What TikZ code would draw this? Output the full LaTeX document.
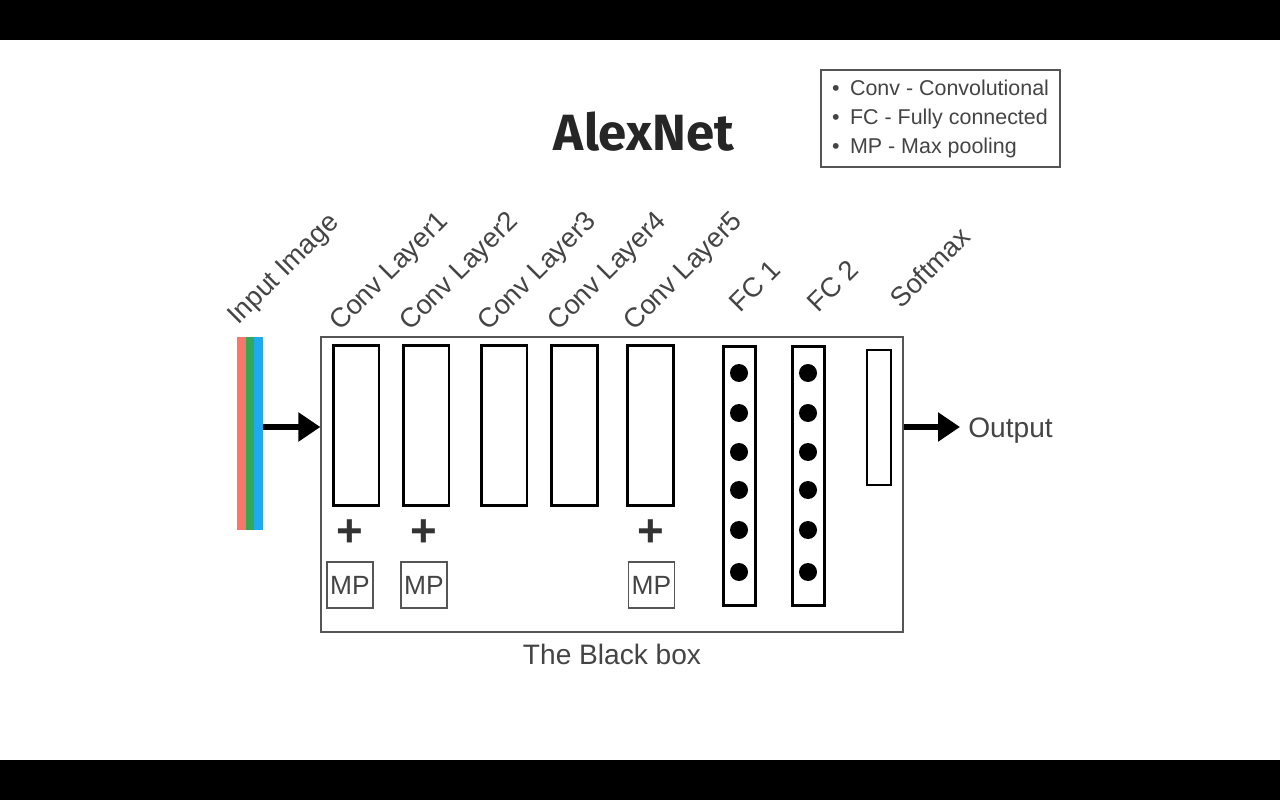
\documentclass[tikz,border=0pt]{standalone}
\usepackage{fontspec}
\setmainfont{Liberation Sans}
\newfontfamily\titlefont{Fira Sans}
\usepackage{xcolor}
\usetikzlibrary{arrows.meta,positioning}
\definecolor{txtgray}{HTML}{444444}
\definecolor{boxgray}{HTML}{555555}
\definecolor{chred}{HTML}{F8766D}
\definecolor{chgreen}{HTML}{34A853}
\definecolor{chblue}{HTML}{1EAAF1}
\tikzstyle{conv} = [draw=black, line width=1.7pt, minimum width=0.92cm, minimum height=3.22cm, inner sep=0pt]
\tikzstyle{fc} = [draw=black, line width=1.7pt, minimum width=0.64cm, minimum height=5.2cm, inner sep=0pt]
\tikzstyle{dot} = [circle, fill=black, minimum size=0.36cm, inner sep=0pt]
\tikzstyle{mp} = [draw=boxgray, line width=0.7pt, minimum size=0.92cm, inner sep=0pt, text=txtgray, font=\fontsize{15}{18}\selectfont]
\tikzstyle{plus} = [inner sep=0pt, text=black!80, font=\fontsize{26}{30}\selectfont\bfseries]
\tikzstyle{lbl} = [rotate=45, anchor=base west, inner sep=0pt, text=txtgray, font=\fontsize{15.5}{18}\selectfont]
\tikzstyle{chan} = [minimum width=0.17cm, minimum height=3.86cm, inner sep=0pt]
\tikzstyle{arrow} = [line width=3.8pt, -{Triangle[length=0.44cm,width=0.56cm]}]

\begin{document}
\begin{tikzpicture}[x=0.02cm, y=-0.02cm]
    % frame
    \useasboundingbox (0,0) rectangle (1280,800);
    \fill[white] (0,0) rectangle (1280,800);
    \fill[black] (0,0) rectangle (1280,40);
    \fill[black] (0,760) rectangle (1280,800);
    % title and legend
    \node (title) at (644,132) {\titlefont\fontsize{29}{34}\selectfont\bfseries\color{black!85}AlexNet};
    \node (legend) [draw=boxgray, line width=0.8pt, minimum width=4.78cm, minimum height=1.94cm, inner sep=2pt, text=txtgray, font=\fontsize{12.2}{16.5}\selectfont] at (940.5,118.5)
        {\begin{tabular}{@{}l@{\hspace{6pt}}l@{}}
         \textbullet & Conv - Convolutional\\
         \textbullet & FC - Fully connected\\
         \textbullet & MP - Max pooling
         \end{tabular}};
    % input image
    \node (chR) [chan, fill=chred] at (241.5,433.5) {};
    \node (chG) [chan, fill=chgreen] at (250,433.5) {};
    \node (input) [chan, fill=chblue] at (258.5,433.5) {};
    % the black box
    \node (blackbox) [draw=boxgray, line width=0.8pt, minimum width=11.64cm, minimum height=5.9cm] at (612,484.5) {};
    \node (conv1) [conv] at (356,425.5) {};
    \node (conv2) [conv] at (426,425.5) {};
    \node (conv3) [conv] at (504,425.5) {};
    \node (conv4) [conv] at (574.5,425.5) {};
    \node (conv5) [conv] at (650.5,425.5) {};
    \node (fc1) [fc] at (739,476) {};
    \node (fc2) [fc] at (808,476) {};
    \foreach \y [count=\i] in {373,413,452,490,530,572} {
        \node (dotA\i) [dot] at (739,\y) {};
        \node (dotB\i) [dot] at (808,\y) {};
    }
    \node (softmax) [draw=black, line width=1.5pt, minimum width=0.48cm, minimum height=2.7cm, inner sep=0pt] at (879,417.5) {};
    % pooling
    \node (plus1) [plus] at (350,533) {+};
    \node (plus2) [plus] at (424,533) {+};
    \node (plus5) [plus] at (651,533) {+};
    \node (mp1) [mp] at (350,585) {MP};
    \node (mp2) [mp] at (424,585) {MP};
    \node (mp5) [mp] at (651.5,585) {MP};
    % labels
    \node (lblIn) [lbl] at (238,326) {Input Image};
    \node (lbl1) [lbl] at (340,332) {Conv Layer1};
    \node (lbl2) [lbl] at (410,332) {Conv Layer2};
    \node (lbl3) [lbl] at (488,332) {Conv Layer3};
    \node (lbl4) [lbl] at (558,332) {Conv Layer4};
    \node (lbl5) [lbl] at (634,332) {Conv Layer5};
    \node (lblF1) [lbl] at (740,314) {FC 1};
    \node (lblF2) [lbl] at (818,314) {FC 2};
    \node (lblS) [lbl] at (901,310) {Softmax};
    \node (boxlbl) [below=0.1cm of blackbox, text=txtgray, font=\fontsize{16}{19}\selectfont] {The Black box};
    \node (output) [anchor=west, text=txtgray, font=\fontsize{16}{19}\selectfont, inner sep=0pt] at (968,431) {Output};
    % arrows
    \draw [arrow] (input.east |- 0,427) -- (blackbox.west |- 0,427);
    \draw [arrow] (blackbox.east |- 0,427) -- (960,427);
\end{tikzpicture}
\end{document}
